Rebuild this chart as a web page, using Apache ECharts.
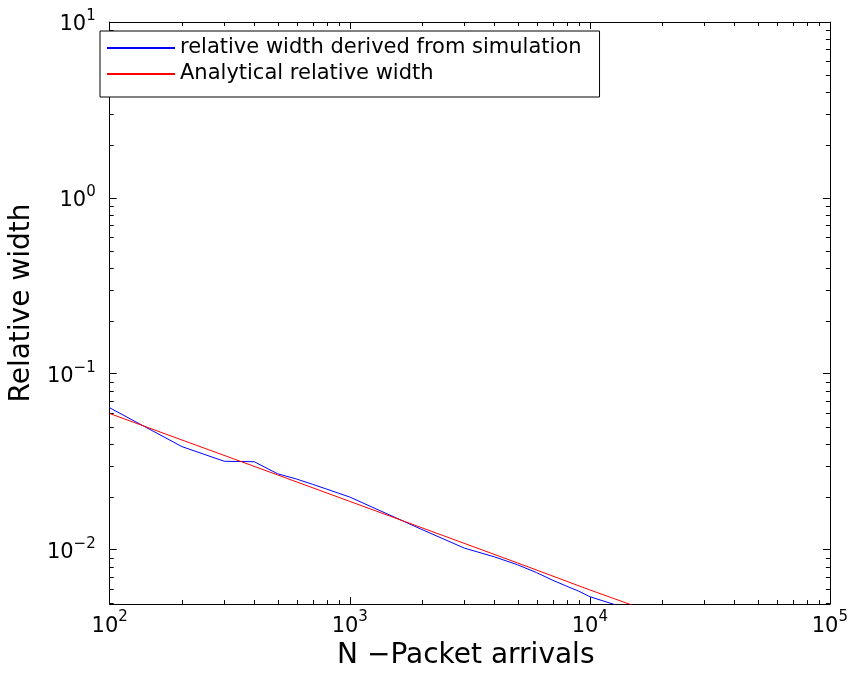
<!DOCTYPE html>
<html><head><meta charset="utf-8">
<script src="https://cdn.jsdelivr.net/npm/echarts@6/dist/echarts.min.js"></script>
<style>html,body{margin:0;padding:0;background:#fff}#c{width:851px;height:675px}</style>
</head><body><div id="c"></div>
<script>
// Data
const simN = [100,200,300,400,500,600,700,800,900,1000,2000,3000,4000,5000,6000,7000,8000,9000,10000,20000];
const simWidth = [0.064,0.0385,0.0318,0.0316,0.0270,0.0252,0.0235,0.0221,0.0209,0.0199,0.0130,0.0102,0.0091,0.0082,0.0074,0.0067,0.0062,0.0058,0.0054,0.0040];
const anaN = [100,200,500,1000,2000,5000,10000,20000,50000,100000];
const anaWidth = [0.0594,0.0420,0.0266,0.0188,0.0133,0.0084,0.0059,0.0042,0.0027,0.0019];
const seriesNames = ['relative width derived from simulation', 'Analytical relative width'];
const xLimits = [100, 100000];
const yLimits = [0.0049, 10];
const xMinorTicks = [200,300,400,500,600,700,800,900,2000,3000,4000,5000,6000,7000,8000,9000,20000,30000,40000,50000,60000,70000,80000,90000];
const yMinorTicks = [0.005,0.006,0.007,0.008,0.009,0.02,0.03,0.04,0.05,0.06,0.07,0.08,0.09,0.2,0.3,0.4,0.5,0.6,0.7,0.8,0.9,2,3,4,5,6,7,8,9];

const FONT = 'DejaVu Sans';
const chart = echarts.init(document.getElementById('c'), null, {renderer: 'canvas'});

function powLabel(v) {
  const e = Math.log10(v);
  const r = Math.round(e);
  if (Math.abs(e - r) > 1e-6) return '';
  return '{b|10}{e|' + (r < 0 ? '\u2212' + (-r) : r) + '}';
}
const richLabel = {
  b: {fontSize: 21, fontFamily: FONT, color: '#000', lineHeight: 27, verticalAlign: 'bottom'},
  e: {fontSize: 15, fontFamily: FONT, color: '#000', lineHeight: 13, verticalAlign: 'top'}
};
const MAJOR = 7, MINOR = 4;
function baseAxis(extra) {
  return Object.assign({
    type: 'log',
    logBase: 10,
    axisLine: {show: true, lineStyle: {color: '#000', width: 1}},
    axisTick: {show: true, inside: true, length: MAJOR, lineStyle: {color: '#000', width: 1}},
    splitLine: {show: false},
    minorTick: {show: false},
    minorSplitLine: {show: false}
  }, extra);
}

const minorData = xMinorTicks.map(v => [v, 1, 0]).concat(yMinorTicks.map(v => [1000, v, 1]));

const option = {
  animation: false,
  backgroundColor: '#fff',
  grid: {left: 96, right: 21, top: 22, bottom: 66, containLabel: false},
  xAxis: [
    baseAxis({
      position: 'bottom', min: xLimits[0], max: xLimits[1],
      name: 'N \u2212Packet arrivals', nameLocation: 'middle', nameGap: 26,
      nameTextStyle: {fontSize: 28, fontFamily: FONT, color: '#000', padding: [0, 8, 0, 0]},
      axisLabel: {formatter: powLabel, rich: richLabel, margin: 6, color: '#000'}
    }),
    baseAxis({position: 'top', min: xLimits[0], max: xLimits[1], axisLabel: {show: false}})
  ],
  yAxis: [
    baseAxis({
      position: 'left', min: yLimits[0], max: yLimits[1],
      name: 'Relative width', nameLocation: 'middle', nameGap: 60,
      nameTextStyle: {fontSize: 28, fontFamily: FONT, color: '#000', padding: [0, 0, 0, 20]},
      axisLabel: {formatter: powLabel, rich: richLabel, margin: 14, color: '#000'}
    }),
    baseAxis({position: 'right', min: yLimits[0], max: yLimits[1], axisLabel: {show: false}})
  ],
  legend: {
    data: seriesNames,
    orient: 'vertical',
    left: 100, top: 31,
    backgroundColor: '#fff',
    borderColor: '#000', borderWidth: 1, borderRadius: 0,
    padding: [4, 18, 10, 6],
    itemWidth: 68, itemHeight: 26, itemGap: 0,
    itemStyle: {opacity: 0},
    textStyle: {fontSize: 21, fontFamily: FONT, color: '#000', lineHeight: 26}
  },
  series: [
    {
      name: seriesNames[0], type: 'line', xAxisIndex: 0, yAxisIndex: 0,
      data: simN.map((n, i) => [n, simWidth[i]]),
      symbol: 'none', clip: true,
      lineStyle: {color: '#0000ff', width: 1}, itemStyle: {color: '#0000ff'}
    },
    {
      name: seriesNames[1], type: 'line', xAxisIndex: 0, yAxisIndex: 0,
      data: anaN.map((n, i) => [n, anaWidth[i]]),
      symbol: 'none', clip: true,
      lineStyle: {color: '#ff0000', width: 1}, itemStyle: {color: '#ff0000'}
    },
    {
      name: 'minorTicks', type: 'custom', xAxisIndex: 0, yAxisIndex: 0,
      silent: true, clip: false,
      data: minorData,
      renderItem: function (params, api) {
        const cs = params.coordSys;
        const kind = api.value(2);
        const p = api.coord([api.value(0), api.value(1)]);
        const style = {stroke: '#000', lineWidth: 1};
        if (kind === 0) {
          const x = Math.round(p[0]) + 0.5;
          const yb = cs.y + cs.height, yt = cs.y;
          return {type: 'group', children: [
            {type: 'line', shape: {x1: x, y1: yb, x2: x, y2: yb - MINOR}, style: style},
            {type: 'line', shape: {x1: x, y1: yt, x2: x, y2: yt + MINOR}, style: style}
          ]};
        } else {
          const y = Math.round(p[1]) + 0.5;
          const xl = cs.x, xr = cs.x + cs.width;
          return {type: 'group', children: [
            {type: 'line', shape: {x1: xl, y1: y, x2: xl + MINOR, y2: y}, style: style},
            {type: 'line', shape: {x1: xr, y1: y, x2: xr - MINOR, y2: y}, style: style}
          ]};
        }
      }
    }
  ]
};
chart.setOption(option);
</script>
</body></html>
